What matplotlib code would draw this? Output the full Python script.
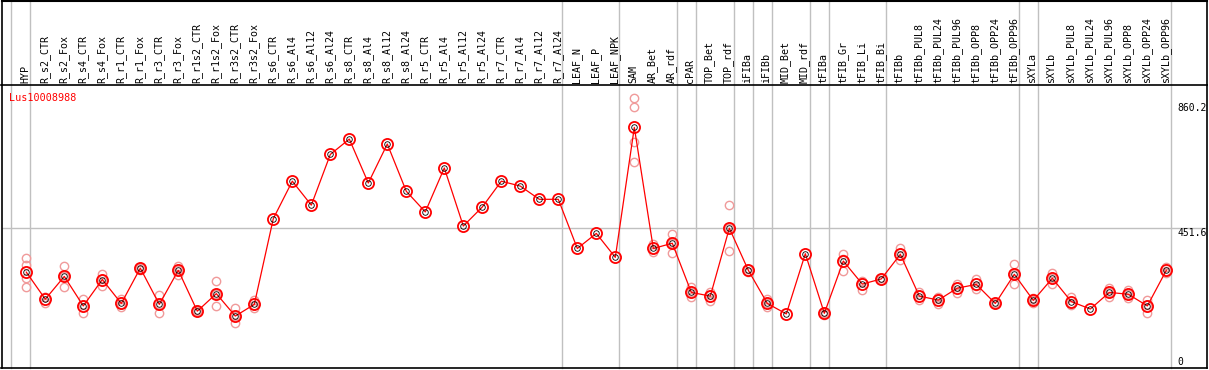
import matplotlib.pyplot as plt
from matplotlib.lines import Line2D

gene = "Lus10008988"

samples = ["HYP", "R_s2_CTR", "R_s2_Fox", "R_s4_CTR", "R_s4_Fox", "R_r1_CTR", "R_r1_Fox",
           "R_r3_CTR", "R_r3_Fox", "R_r1s2_CTR", "R_r1s2_Fox", "R_r3s2_CTR", "R_r3s2_Fox",
           "R_s6_CTR", "R_s6_Al4", "R_s6_Al12", "R_s6_Al24", "R_s8_CTR", "R_s8_Al4",
           "R_s8_Al12", "R_s8_Al24", "R_r5_CTR", "R_r5_Al4", "R_r5_Al12", "R_r5_Al24",
           "R_r7_CTR", "R_r7_Al4", "R_r7_Al12", "R_r7_Al24", "LEAF_N", "LEAF_P", "LEAF_NPK",
           "SAM", "AR_Bet", "AR_rdf", "cPAR", "TOP_Bet", "TOP_rdf", "iFIBa", "iFIBb",
           "MID_Bet", "MID_rdf", "tFIBa", "tFIB_Gr", "tFIB_Li", "tFIB_Bi", "tFIBb",
           "tFIBb_PUL8", "tFIBb_PUL24", "tFIBb_PUL96", "tFIBb_OPP8", "tFIBb_OPP24",
           "tFIBb_OPP96", "sXYLa", "sXYLb", "sXYLb_PUL8", "sXYLb_PUL24", "sXYLb_PUL96",
           "sXYLb_OPP8", "sXYLb_OPP24", "sXYLb_OPP96"]

# sizes of the sample groups (separated by grey lines)
group_sizes = [1, 28, 3, 3, 1, 2, 1, 1, 2, 1, 3, 7, 1, 7]

means = [309, 221, 295, 199, 285, 207, 322, 204, 315, 182, 239, 166, 204,
         483, 605, 527, 692, 742, 599, 726, 572, 505, 648, 459, 521, 605, 589, 546, 546,
         386, 435, 357,
         780, 386, 403, 243, 231, 452, 315, 207, 173, 369,
         175, 345, 270, 287, 367, 231, 218, 257, 269, 207, 302,
         217, 289, 213, 189, 243, 237, 199, 315]

replicates = [
    [355, 332, 289, 260], [227, 207, 229], [328, 261, 296], [220, 176, 201],
    [304, 265, 286], [220, 196, 205], [327, 316, 323], [233, 175, 204],
    [329, 300, 316], [185, 180, 181], [281, 198, 238], [191, 142, 165],
    [218, 193, 201],
    [], [], [], [], [], [], [], [], [], [], [], [], [], [], [], [],
    [], [], [],
    [875, 848, 734, 667], [400, 375, 383], [433, 372, 404], [259, 227, 243],
    [245, 215, 233], [526, 377, 453], [319, 308, 318], [220, 194, 207],
    [], [],
    [180, 169, 176], [368, 314, 353], [280, 252, 278], [290, 282, 289],
    [386, 348, 370], [243, 217, 233], [229, 205, 220], [271, 240, 260],
    [288, 254, 265], [209, 205, 207], [334, 269, 303],
    [226, 207, 218], [307, 271, 289], [227, 202, 210], [], [258, 228, 243],
    [250, 224, 237], [218, 176, 203], [327, 305, 313],
]

y_labels = [860.2, 451.6, 0]

W, H = 1209, 370
fig = plt.figure(figsize=(W / 100, H / 100), dpi=100)
ax = fig.add_axes([1.5 / W, (H - 368) / H, (1207 - 1.5) / W, (368 - 85) / H])

x = list(range(len(samples)))
ax.set_xlim(-1.305, 62.14)
ax.set_ylim(-3, 918)

mono = "DejaVu Sans Mono"
pink = "#f09a9a"

# grey separators between groups
bounds = [-1]
for s in group_sizes:
    bounds.append(bounds[-1] + s)
for b in bounds:
    ax.axvline(b + 0.22, ymin=0, ymax=1.31, color="#c0c0c0", lw=1, clip_on=False, zorder=1)
ax.axhline(y_labels[1], color="#c0c0c0", lw=1, zorder=1)

# replicate points
for i, reps in enumerate(replicates):
    ax.plot([i] * len(reps), reps, "o", ms=6, mfc="none", mec=pink, mew=1, zorder=2)

ax.plot(x, means, "-", color="red", lw=0.9, zorder=3)
ax.plot(x, means, "o", ms=8, mfc="none", mec="red", mew=1.3, zorder=4)
ax.plot(x, means, "o", ms=4, mfc="none", mec="black", mew=0.6, zorder=5)

# sample names in the header
for i, name in enumerate(samples):
    ax.text(i - 0.05, 1.007, name, transform=ax.get_xaxis_transform(), rotation=90,
            ha="center", va="bottom", fontsize=7.2, family=mono, clip_on=False)

ax.text(8 / (1207 - 1.5), 0.97, gene, transform=ax.transAxes, color="red",
        fontsize=7.3, family=mono, va="top", ha="left")

for v in y_labels:
    ax.text(60.6, v, "%g" % v if v == 0 else "%.1f" % v, fontsize=7.0, family=mono,
            ha="left", va="bottom" if v == 0 else "top")

ax.set_xticks([])
ax.set_yticks([])
for sp in ax.spines.values():
    sp.set_color("black")
    sp.set_linewidth(1.2)

# outer frame around the header area
fig.add_artist(Line2D([1.5 / W, 1207 / W], [1 - 1 / H, 1 - 1 / H], color="black", lw=1.5))
fig.add_artist(Line2D([1.5 / W, 1.5 / W], [(H - 85) / H, 1], color="black", lw=1.2))
fig.add_artist(Line2D([1207 / W, 1207 / W], [(H - 85) / H, 1], color="black", lw=1.2))

fig.savefig("out.png", dpi=100)
